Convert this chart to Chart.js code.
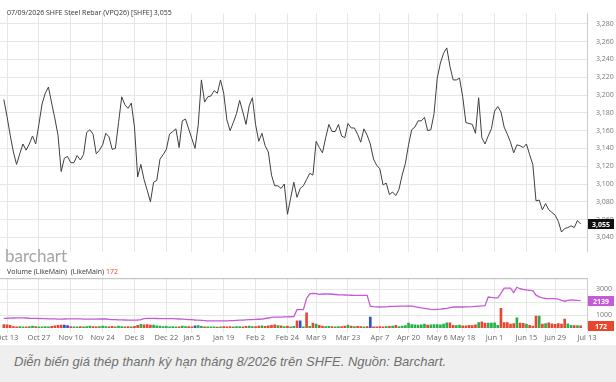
<!DOCTYPE html>
<html>
<head>
<meta charset="utf-8">
<script src="https://cdn.jsdelivr.net/npm/chart.js@4.4.1/dist/chart.umd.min.js"></script>
<style>
  body { margin: 0; background: #fff; width: 616px; height: 382px; overflow: hidden; position: relative; }
  #price { position: absolute; left: 0; top: 0; }
  #volume { position: absolute; left: 0; top: 265px; }
  #caption { position: absolute; left: 0; top: 345px; width: 616px; height: 37px; background: #efefef; }
  #caption span { position: absolute; left: 14px; top: 10px; font: italic 13px/13px "Liberation Sans", Arial, sans-serif; color: #707070; white-space: nowrap; }
</style>
</head>
<body>
<canvas id="price" width="616" height="265"></canvas>
<canvas id="volume" width="616" height="80"></canvas>
<div id="caption"><span>Diễn biến giá thép thanh kỳ hạn tháng 8/2026 trên SHFE. Nguồn: Barchart.</span></div>
<script>
// trading day index 0 = Oct 10 2025, last = Jul 9 2026
const tickDays = [1, 11, 21, 31, 41, 51, 59, 69, 79, 89, 98, 108, 118, 127, 136, 144, 154, 164, 173, 183];
const tickLabels = ['Oct 13', 'Oct 27', 'Nov 10', 'Nov 24', 'Dec 8', 'Dec 22', 'Jan 5', 'Jan 19', 'Feb 2', 'Feb 24',
  'Mar 9', 'Mar 23', 'Apr 7', 'Apr 20', 'May 6', 'May 18', 'Jun 1', 'Jun 15', 'Jun 29', 'Jul 13'];

const priceTicks = [3040, 3060, 3080, 3100, 3120, 3140, 3160, 3180, 3200, 3220, 3240, 3260, 3280];
const volTicks = [1000, 2000, 3000];

// closing price, VPQ26
const prices = [
  3195, 3176, 3155, 3136, 3122, 3134, 3145, 3138, 3145, 3154,
  3145, 3167, 3190, 3202, 3209, 3191, 3174, 3155, 3114, 3129,
  3131, 3124, 3124, 3132, 3127, 3133, 3158, 3161, 3156, 3134,
  3138, 3144, 3157, 3153, 3139, 3140, 3169, 3198, 3189, 3185,
  3191, 3164, 3108, 3122, 3105, 3093, 3080, 3102, 3104, 3128,
  3133, 3139, 3156, 3159, 3162, 3141, 3171, 3173, 3162, 3151,
  3140, 3166, 3217, 3192, 3198, 3199, 3205, 3202, 3217, 3202,
  3172, 3160, 3169, 3179, 3194, 3181, 3167, 3188, 3197, 3167,
  3148, 3157, 3143, 3136, 3110, 3098, 3098, 3095, 3100, 3066,
  3084, 3102, 3085, 3095, 3098, 3105, 3112, 3110, 3148, 3141,
  3135, 3152, 3167, 3159, 3159, 3167, 3154, 3152, 3168, 3163,
  3163, 3156, 3147, 3162, 3155, 3145, 3128, 3121, 3117, 3099,
  3101, 3088, 3091, 3087, 3094, 3110, 3123, 3144, 3161, 3164,
  3171, 3171, 3175, 3160, 3161, 3179, 3219, 3236, 3247, 3253,
  3232, 3217, 3217, 3219, 3198, 3169, 3168, 3167, 3157, 3197,
  3152, 3145, 3154, 3162, 3182, 3187, 3181, 3164, 3156, 3147,
  3135, 3144, 3143, 3141, 3145, 3133, 3122, 3081, 3082, 3071,
  3078, 3071, 3068, 3065, 3058, 3046, 3050, 3051, 3053, 3051,
  3059, 3055
];

// volume (LikeMain)
const volume = [
  260, 240, 200, 120, 100, 110, 90, 100, 120, 150,
  110, 100, 90, 110, 100, 130, 160, 200, 230, 220,
  180, 120, 100, 90, 110, 100, 120, 150, 110, 100,
  120, 140, 110, 100, 130, 90, 150, 120, 100, 110,
  100, 130, 200, 290, 240, 260, 220, 230, 170, 150,
  120, 130, 100, 120, 90, 100, 150, 120, 110, 100,
  160, 180, 130, 100, 90, 100, 90, 80, 100, 110,
  90, 120, 100, 110, 120, 100, 130, 140, 110, 120,
  150, 160, 130, 170, 200, 250, 190, 160, 120, 140,
  100, 130, 560, 560, 100, 1180, 130, 380, 300, 200,
  150, 120, 130, 110, 100, 120, 110, 140, 220, 150,
  120, 130, 110, 100, 120, 860, 100, 90, 110, 100,
  120, 130, 140, 200, 120, 140, 180, 380, 260, 240,
  220, 250, 300, 220, 250, 260, 270, 240, 300, 400,
  410, 200, 180, 220, 170, 160, 200, 180, 240, 420,
  480, 380, 390, 380, 400, 200, 1530, 430, 420, 300,
  340, 800, 380, 360, 300, 200, 150, 930, 930, 300,
  340, 400, 330, 280, 350, 300, 700, 330, 200, 180,
  190, 172
];

// open interest (LikeMain), purple line
const openInt = [
  754, 760, 774, 780, 790, 795, 790, 780, 760, 750,
  745, 740, 735, 725, 718, 712, 705, 698, 692, 700,
  712, 713, 713, 713, 705, 698, 692, 692, 692, 692,
  700, 712, 700, 670, 655, 645, 635, 630, 625, 615,
  610, 615, 625, 660, 735, 748, 754, 745, 740, 735,
  734, 734, 734, 730, 715, 700, 685, 670, 660, 645,
  625, 615, 600, 580, 560, 549, 549, 549, 549, 552,
  560, 569, 580, 595, 608, 620, 632, 645, 650, 665,
  680, 695, 740, 780, 825, 840, 848, 855, 860, 868,
  875, 885, 1430, 1430, 1430, 2300, 2660, 2700, 2680, 2620,
  2650, 2660, 2650, 2630, 2610, 2590, 2580, 2570, 2560, 2550,
  2540, 2540, 2540, 2540, 2540, 1700, 1670, 1650, 1636, 1640,
  1650, 1677, 1680, 1690, 1700, 1705, 1710, 1718, 1700, 1660,
  1610, 1560, 1530, 1490, 1450, 1430, 1450, 1470, 1500, 1533,
  1590, 1636, 1636, 1636, 1636, 1640, 1650, 1660, 1680, 1700,
  1720, 1738, 2415, 2380, 2354, 2354, 2700, 3113, 3113, 3113,
  2764, 3174, 3060, 3000, 2970, 2930, 2908, 2560, 2420, 2350,
  2300, 2292, 2292, 2292, 2250, 2150, 2087, 2160, 2190, 2170,
  2150, 2139
];

// bars that do not follow the price direction
const blueDays = [19, 20, 60, 93, 115];
const redDays = [95, 176];

const X_MIN = -1.2, X_MAX = 183;
const GRID = '#e6e6e6';
const RED = '#e8472f', GREEN = '#25b04a', BLUE = '#2b57c4', PURPLE = '#c65ad8';

function fmt(v) { return v.toLocaleString('en-US'); }

const barColors = volume.map(function (v, i) {
  if (blueDays.indexOf(i) >= 0) return BLUE;
  if (redDays.indexOf(i) >= 0) return RED;
  if (i == 0) return RED;
  return prices[i] >= prices[i - 1] ? GREEN : RED;
});

function dayTicks(scale) { scale.ticks = tickDays.map(d => ({ value: d })); }

function tag(ctx, y, text, bg) {
  ctx.fillStyle = bg;
  ctx.fillRect(588, Math.round(y) - 5, 26, 10);
  ctx.fillStyle = '#fff';
  ctx.font = 'bold 7px "Open Sans"';
  ctx.textAlign = 'center';
  ctx.textBaseline = 'middle';
  ctx.fillText(text, 601, Math.round(y) + 0.5);
}

const pricePlugin = {
  id: 'priceText',
  afterDraw(chart) {
    const ctx = chart.ctx;
    ctx.save();
    ctx.fillStyle = '#333';
    ctx.font = '7px "Open Sans"';
    ctx.textAlign = 'left';
    ctx.textBaseline = 'middle';
    ctx.fillText('07/09/2026 SHFE Steel Rebar (VPQ26) [SHFE] ' + fmt(prices[prices.length - 1]), 7, 13);

    ctx.fillStyle = '#a5a5a5';
    ctx.font = '17px Lato';
    ctx.textBaseline = 'alphabetic';
    ctx.fillText('barchart', 5, 262);

    const last = prices[prices.length - 1];
    tag(ctx, chart.scales.y.getPixelForValue(last), fmt(last), '#111');
    ctx.restore();
  }
};

new Chart(document.getElementById('price'), {
  type: 'line',
  data: {
    datasets: [{
      data: prices.map((v, i) => ({ x: i, y: v })),
      borderColor: '#404040',
      borderWidth: 1,
      pointRadius: 0,
      tension: 0
    }]
  },
  options: {
    responsive: false,
    animation: false,
    devicePixelRatio: 1,
    layout: { padding: { top: 5, left: 0, right: 0, bottom: 0 } },
    plugins: { legend: { display: false }, tooltip: { enabled: false } },
    scales: {
      x: {
        type: 'linear', min: X_MIN, max: X_MAX,
        grid: { color: GRID, drawTicks: false },
        border: { display: false },
        ticks: { display: false },
        afterBuildTicks: dayTicks,
        afterFit: s => { s.height = 0; }
      },
      y: {
        position: 'right', min: 3023.8, max: 3292,
        grid: { color: GRID, drawTicks: false },
        border: { color: '#cccccc' },
        ticks: { color: '#777', font: { family: 'Open Sans', size: 7 }, padding: 9, callback: v => fmt(v) },
        afterBuildTicks: s => { s.ticks = priceTicks.map(v => ({ value: v })); },
        afterFit: s => { s.width = 29; }
      }
    }
  },
  plugins: [pricePlugin]
});

const volPlugin = {
  id: 'volText',
  afterDraw(chart) {
    const ctx = chart.ctx;
    const area = chart.chartArea;
    ctx.save();
    ctx.strokeStyle = '#bbbbbb';
    ctx.lineWidth = 1;
    ctx.beginPath();
    ctx.moveTo(0, area.top + 0.5);
    ctx.lineTo(area.right, area.top + 0.5);
    ctx.stroke();

    ctx.font = '7px "Open Sans"';
    ctx.textAlign = 'left';
    ctx.textBaseline = 'middle';
    ctx.fillStyle = '#333';
    const head = 'Volume (LikeMain)  (LikeMain) ';
    ctx.fillText(head, 7, 7);
    ctx.fillStyle = RED;
    ctx.fillText(String(volume[volume.length - 1]), 7 + ctx.measureText(head).width, 7);

    ctx.fillStyle = '#666';
    ctx.font = '7.5px "Open Sans"';
    ctx.textAlign = 'center';
    const xs = chart.scales.x;
    tickDays.forEach(function (d, k) {
      ctx.fillText(tickLabels[k], xs.getPixelForValue(d), area.bottom + 10);
    });

    const ys = chart.scales.y;
    const oiLast = openInt[openInt.length - 1];
    const volLast = volume[volume.length - 1];
    tag(ctx, ys.getPixelForValue(oiLast), String(oiLast), PURPLE);
    tag(ctx, ys.getPixelForValue(volLast), String(volLast), RED);
    ctx.restore();
  }
};

new Chart(document.getElementById('volume'), {
  type: 'bar',
  data: {
    datasets: [{
      type: 'line',
      data: openInt.map((v, i) => ({ x: i, y: v })),
      borderColor: PURPLE,
      borderWidth: 1.3,
      pointRadius: 0,
      tension: 0,
      order: 0
    }, {
      type: 'bar',
      data: volume.map((v, i) => ({ x: i, y: v })),
      backgroundColor: barColors,
      barThickness: 2,
      order: 1
    }]
  },
  options: {
    responsive: false,
    animation: false,
    devicePixelRatio: 1,
    layout: { padding: 0 },
    plugins: { legend: { display: false }, tooltip: { enabled: false } },
    scales: {
      x: {
        type: 'linear', min: X_MIN, max: X_MAX, offset: false,
        grid: { color: GRID, offset: false, drawTicks: true, tickLength: 5 },
        border: { display: false },
        ticks: { display: false },
        afterBuildTicks: dayTicks,
        afterFit: s => { s.height = 17; }
      },
      y: {
        position: 'right', min: 0, max: 3880,
        grid: { color: GRID, drawTicks: false },
        border: { color: '#cccccc' },
        ticks: { color: '#777', font: { family: 'Open Sans', size: 7 }, padding: 9,
          callback: v => (v == 2000 ? '' : String(v)) },
        afterBuildTicks: s => { s.ticks = volTicks.map(v => ({ value: v })); },
        afterFit: s => { s.width = 29; }
      }
    }
  },
  plugins: [volPlugin]
});
</script>
</body>
</html>
